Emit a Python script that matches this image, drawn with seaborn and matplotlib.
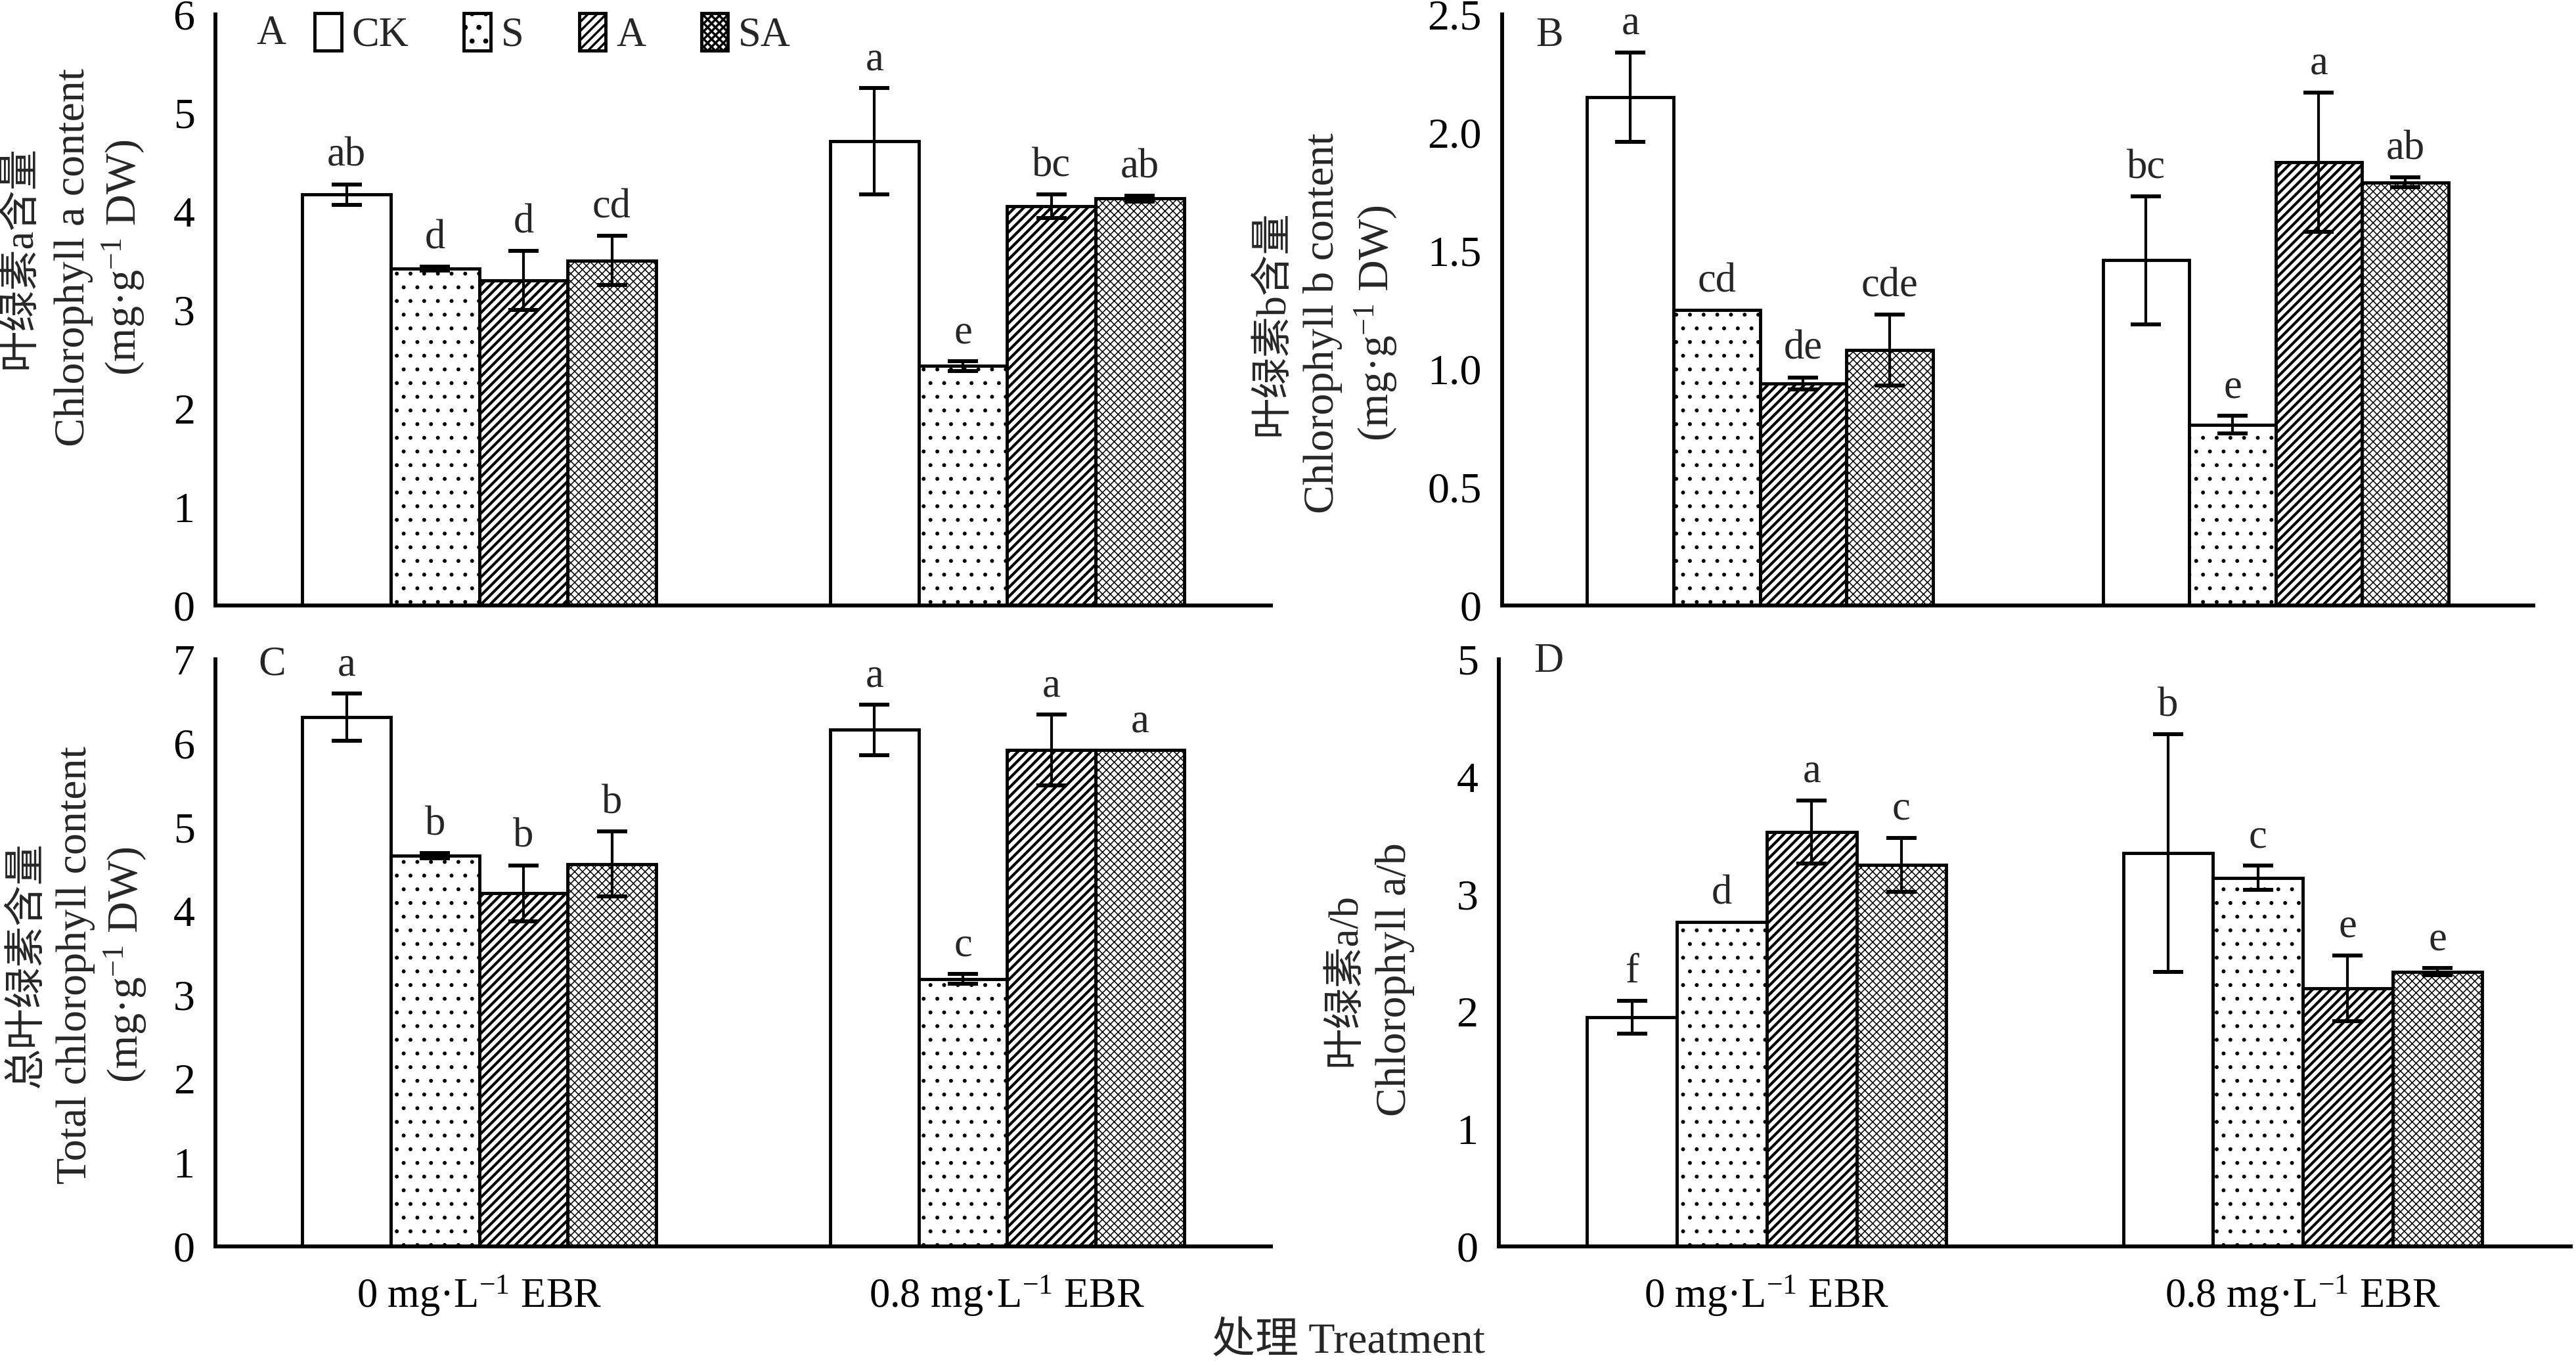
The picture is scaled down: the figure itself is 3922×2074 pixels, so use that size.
import numpy as np
import pandas as pd
import matplotlib
matplotlib.use("Agg")
import matplotlib.pyplot as plt
import seaborn as sns

# ---------------- data ----------------
groups = ["0 mg·L$^{-1}$ EBR", "0.8 mg·L$^{-1}$ EBR"]
treatments = ["CK", "S", "A", "SA"]

chla_0 = [4.17, 3.42, 3.30, 3.50]
chla_0_err = [0.105, 0.02, 0.30, 0.25]
chla_08 = [4.71, 2.43, 4.05, 4.13]
chla_08_err = [0.54, 0.05, 0.12, 0.03]
chla_letters = [["ab", "d", "d", "cd"], ["a", "e", "bc", "ab"]]

chlb_0 = [2.15, 1.25, 0.94, 1.08]
chlb_0_err = [0.19, 0.0, 0.025, 0.15]
chlb_08 = [1.46, 0.765, 1.875, 1.79]
chlb_08_err = [0.27, 0.038, 0.295, 0.02]
chlb_letters = [["a", "cd", "de", "cde"], ["bc", "e", "a", "ab"]]

tot_0 = [6.31, 4.66, 4.21, 4.56]
tot_0_err = [0.28, 0.03, 0.335, 0.39]
tot_08 = [6.16, 3.19, 5.92, 5.92]
tot_08_err = [0.30, 0.06, 0.42, 0.0]
tot_letters = [["a", "b", "b", "b"], ["a", "c", "a", "a"]]

ab_0 = [1.95, 2.76, 3.53, 3.25]
ab_0_err = [0.14, 0.0, 0.27, 0.23]
ab_08 = [3.35, 3.14, 2.20, 2.34]
ab_08_err = [1.01, 0.105, 0.28, 0.03]
ab_letters = [["f", "d", "a", "c"], ["b", "c", "e", "e"]]

panels = [
    dict(tag="A", m0=chla_0, e0=chla_0_err, m8=chla_08, e8=chla_08_err, let=chla_letters,
         ymax=6, yticks=[0, 1, 2, 3, 4, 5, 6], ylab=["0", "1", "2", "3", "4", "5", "6"],
         ylines=["叶绿素a含量", "Chlorophyll a content", "(mg·g$^{-1}$ DW)"]),
    dict(tag="B", m0=chlb_0, e0=chlb_0_err, m8=chlb_08, e8=chlb_08_err, let=chlb_letters,
         ymax=2.5, yticks=[0, 0.5, 1.0, 1.5, 2.0, 2.5], ylab=["0", "0.5", "1.0", "1.5", "2.0", "2.5"],
         ylines=["叶绿素b含量", "Chlorophyll b content", "(mg·g$^{-1}$ DW)"]),
    dict(tag="C", m0=tot_0, e0=tot_0_err, m8=tot_08, e8=tot_08_err, let=tot_letters,
         ymax=7, yticks=[0, 1, 2, 3, 4, 5, 6, 7], ylab=["0", "1", "2", "3", "4", "5", "6", "7"],
         ylines=["总叶绿素含量", "Total chlorophyll content", "(mg·g$^{-1}$ DW)"]),
    dict(tag="D", m0=ab_0, e0=ab_0_err, m8=ab_08, e8=ab_08_err, let=ab_letters,
         ymax=5, yticks=[0, 1, 2, 3, 4, 5], ylab=["0", "1", "2", "3", "4", "5"],
         ylines=["叶绿素a/b", "Chlorophyll a/b"]),
]

# ---------------- style ----------------
sns.set_theme(style="white")
FAM = ["Liberation Serif", "Noto Sans CJK SC", "DejaVu Sans"]
plt.rcParams["font.family"] = FAM
plt.rcParams["mathtext.fontset"] = "custom"
plt.rcParams["mathtext.rm"] = "Liberation Serif"
plt.rcParams["mathtext.it"] = "Liberation Serif:italic"
plt.rcParams["mathtext.default"] = "regular"
plt.rcParams["hatch.linewidth"] = 1.0
plt.rcParams["hatch.color"] = "black"

hatches = ["", "..", "//////", "xxxxxxx"]
hatch_lw = [1.0, 0.5, 1.2, 0.45]

fig = plt.figure(figsize=(3922 / 250, 2074 / 250), dpi=250)
rects = {
    "A": [0.0836, 0.5555, 0.4098, 0.4339],
    "B": [0.5831, 0.5555, 0.4004, 0.4339],
    "C": [0.0836, 0.0849, 0.4098, 0.4310],
    "D": [0.5818, 0.0849, 0.4162, 0.4310],
}
tag_pos = {"A": (0.039, 0.967), "B": (0.033, 0.963), "C": (0.041, 0.99), "D": (0.033, 0.995)}
ylab_pos = {
    "A": ([0.0080, 0.0287, 0.0478], 0.811),
    "B": ([0.4943, 0.5134, 0.5338], 0.7627),
    "C": ([0.0108, 0.0293, 0.0485], 0.2916),
    "D": ([0.5223, 0.5415], 0.2807),
}

for p in panels:
    tag = p["tag"]
    ax = fig.add_axes(rects[tag])
    df = pd.DataFrame({
        "group": [groups[0]] * 4 + [groups[1]] * 4,
        "treatment": treatments * 2,
        "value": list(p["m0"]) + list(p["m8"]),
    })
    sns.barplot(data=df, x="group", y="value", hue="treatment", order=groups,
                hue_order=treatments, palette=["white"] * 4, saturation=1,
                edgecolor="black", linewidth=1.4, width=0.67, errorbar=None,
                legend=False, ax=ax, zorder=2)
    bar_conts = list(ax.containers)
    errs = [p["e0"], p["e8"]]
    means = [p["m0"], p["m8"]]
    for i, cont in enumerate(bar_conts):
        for j, bar in enumerate(cont.patches):
            bar.set_hatch(hatches[i])
            bar.set_edgecolor("black")
            if hasattr(bar, "set_hatch_linewidth"):
                bar.set_hatch_linewidth(hatch_lw[i])
            xc = bar.get_x() + bar.get_width() / 2
            m = means[j][i]
            e = errs[j][i]
            if e > 0:
                ax.errorbar([xc], [m], yerr=[e], fmt="none", ecolor="black",
                            elinewidth=1.2, capsize=6.5, capthick=1.7, zorder=4)
            ax.annotate(p["let"][j][i], (xc, m + e), xytext=(0, 8),
                        textcoords="offset points", ha="center", va="baseline",
                        fontsize=18, zorder=5)

    ax.set_xlim(-0.5, 1.5)
    ax.set_ylim(0, p["ymax"])
    ax.set_yticks(p["yticks"])
    ax.set_yticklabels(p["ylab"], fontsize=19)
    ax.set_xlabel("")
    ax.set_ylabel("")
    for s in ["top", "right"]:
        ax.spines[s].set_visible(False)
    for s in ["left", "bottom"]:
        ax.spines[s].set_linewidth(1.7)
        ax.spines[s].set_color("black")
    ax.tick_params(axis="y", direction="in", length=5, width=1.6, pad=9, colors="black")
    ax.tick_params(axis="x", length=0, pad=12, colors="black")
    if tag in ("A", "B"):
        ax.tick_params(axis="x", labelbottom=False)
    else:
        for t in ax.get_xticklabels():
            t.set_fontsize(18)

    ax.text(tag_pos[tag][0], tag_pos[tag][1], tag, transform=ax.transAxes,
            ha="left", va="center", fontsize=18)

    xs, yc = ylab_pos[tag]
    for k, line in enumerate(p["ylines"]):
        fs = 18 if k == 0 else 19
        fig.text(xs[k], yc, line, rotation=90, ha="center", va="center", fontsize=fs)

    if tag == "A":
        ax.legend(handles=[c.patches[0] for c in bar_conts], labels=treatments, ncol=4,
                  loc="center left", bbox_to_anchor=(0.094, 0.967), frameon=False,
                  handlelength=0.65, handleheight=1.05, handletextpad=0.25,
                  columnspacing=1.35, borderpad=0, borderaxespad=0, fontsize=18)

fig.text(0.5235, 0.0145, "处理 Treatment", ha="center", va="center", fontsize=19)

fig.savefig("out.png", dpi=250)
